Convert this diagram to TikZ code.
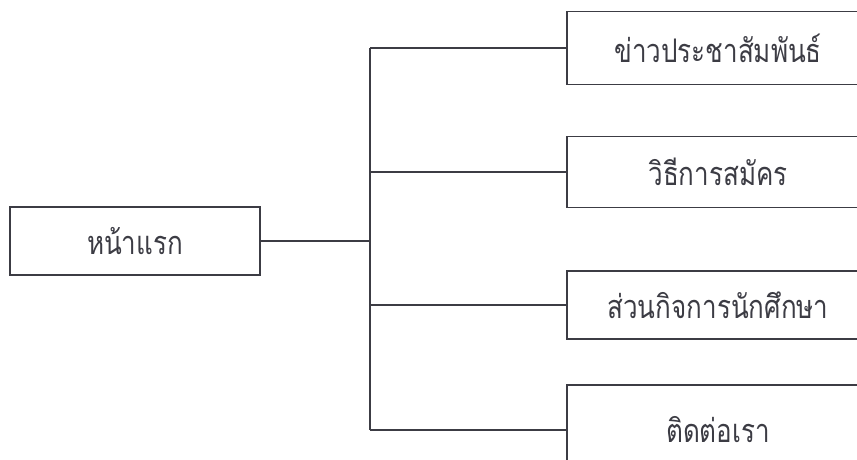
\documentclass[tikz,border=0pt]{standalone}
\usepackage{fontspec}
\usepackage{tikz}
\usetikzlibrary{positioning}
\newfontfamily\thaifont[Script=Thai, FakeStretch=0.8]{Loma}
\definecolor{ink}{HTML}{3C3C44}

\begin{document}
\begin{tikzpicture}[x=0.02cm, y=-0.02cm,
    pagebox/.style={draw=ink, line width=1pt, inner sep=0pt,
      font=\thaifont\fontsize{18.5}{22}\selectfont, text=ink},
    link/.style={draw=ink, line width=1pt}]
  \useasboundingbox (0,0) rectangle (857,459);
  \clip (0,0) rectangle (857,459);

  % Home page
  \node[pagebox, minimum width=5cm, minimum height=1.36cm] (home) at (135,241) {หน้าแรก};

  % Sub pages
  \node[pagebox, minimum width=6.04cm, minimum height=1.46cm] (news) at (718,48) {ข่าวประชาสัมพันธ์};
  \node[pagebox, minimum width=6.04cm, minimum height=1.42cm] (apply) at (718,172) {วิธีการสมัคร};
  \node[pagebox, minimum width=6.04cm, minimum height=1.36cm] (activity) at (718,305) {ส่วนกิจการนักศึกษา};
  \node[pagebox, minimum width=6.04cm, minimum height=1.8cm] (contact) at (718,430) {ติดต่อเรา};

  % Branch line
  \coordinate (bus) at (370,0);
  \draw[link] (home.east) -- (home.east -| bus);
  \draw[link] (news.west -| bus) -- (contact.west -| bus);
  \foreach \p in {news,apply,activity,contact}
    \draw[link] (\p.west -| bus) -- (\p.west);
\end{tikzpicture}
\end{document}
